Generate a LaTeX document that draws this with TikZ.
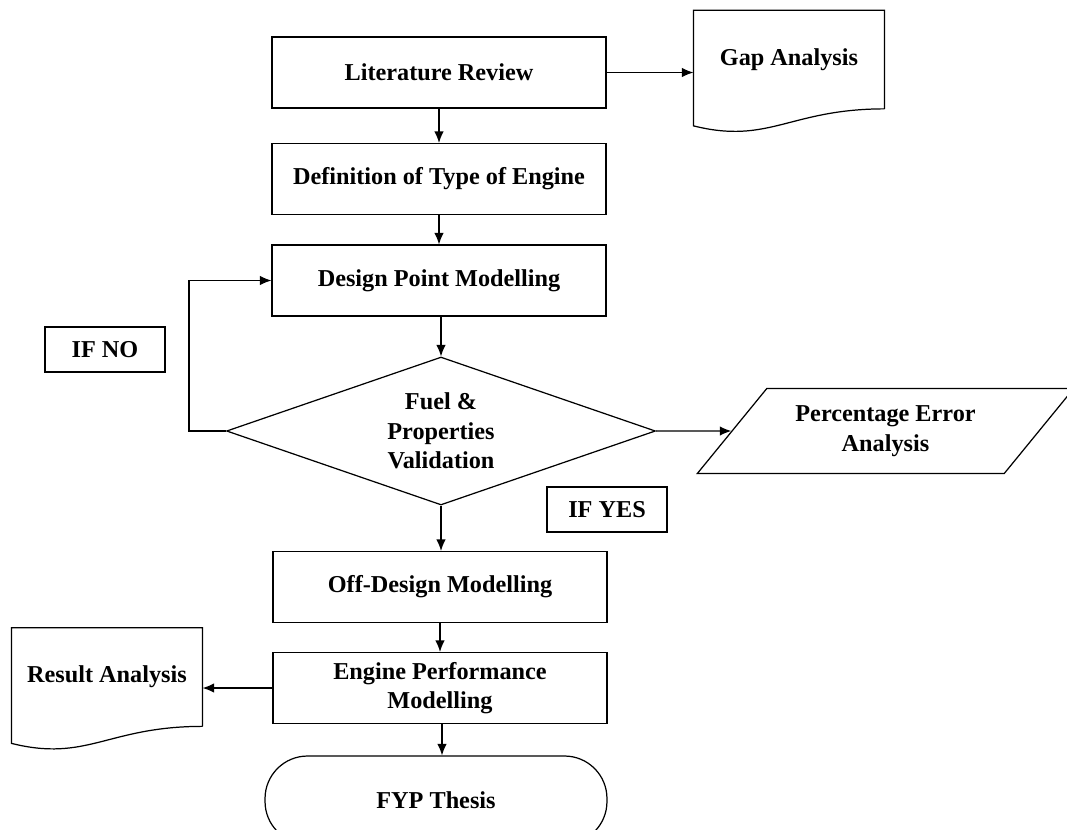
\documentclass[tikz,border=0pt]{standalone}
\usepackage{fontspec}
\setmainfont{Liberation Serif}
\usetikzlibrary{shapes.geometric, positioning, arrows.meta}
\newcommand{\boxfont}{\fontsize{13.8pt}{16.8pt}\selectfont\bfseries}

\tikzset{
  procbox/.style={draw, rectangle, minimum width=6.68cm, minimum height=1.42cm, align=center, font=\boxfont},
  docbox/.style={rectangle, minimum width=3.8cm, minimum height=1.95cm, align=center, font=\boxfont},
  tagbox/.style={draw, rectangle, minimum width=2.4cm, minimum height=0.9cm, font=\boxfont},
  decision/.style={draw, diamond, aspect=2.9, inner sep=0pt, minimum width=8.58cm, minimum height=2.96cm, align=center, font=\boxfont},
  databox/.style={draw, trapezium, trapezium left angle=48, trapezium right angle=132, trapezium stretches=true, minimum width=7.54cm, minimum height=1.7cm, align=center, font=\boxfont},
  termbox/.style={draw, rectangle, rounded corners=0.85cm, minimum width=6.84cm, minimum height=1.76cm, font=\boxfont}
}

\begin{document}
\begin{tikzpicture}[x=0.02cm, y=-0.02cm, line width=0.7pt, >={Latex[length=2.3mm,width=1.9mm]}]
\useasboundingbox (0,0) rectangle (1067,829);

\node[procbox] (lit) at (439,72.5) {Literature Review};
\node[docbox] (gap) at (789,59.5) {Gap Analysis};
\node[procbox] (def) at (439,179) {Definition of Type of Engine};
\node[procbox] (dpm) at (439,280.5) {Design Point Modelling};
\node[decision] (val) at (441,431) {Fuel \&\\Properties\\Validation};
\node[tagbox] (ifno) at (105,349.5) {IF NO};
\node[tagbox] (ifyes) at (607,509.5) {IF YES};
\node[databox] (err) at (885.5,431) {Percentage Error\\Analysis};
\node[procbox] (off) at (440,587) {Off-Design Modelling};
\node[procbox] (eng) at (440,688) {Engine Performance\\Modelling};
\node[docbox] (res) at (107,677) {Result Analysis};
\node[termbox] (fyp) at (436,800) {FYP Thesis};

% document outlines with wavy bottom
\draw (gap.south east) -- (gap.north east) -- (gap.north west) -- ([yshift=-0.34cm]gap.south west)
  .. controls +(76,19) and +(-95,0) .. (gap.south east);
\draw (res.south east) -- (res.north east) -- (res.north west) -- ([yshift=-0.34cm]res.south west)
  .. controls +(76,19) and +(-95,0) .. (res.south east);

% connectors
\draw[->] (lit.east) -- (lit.east -| gap.west);
\draw[->] (lit) -- (def);
\draw[->] (def) -- (dpm);
\draw[->] (dpm.south -| val.north) -- (val.north);
\draw[->] (val.west) -- ++(-37,0) |- (dpm.west); %loop back if no
\draw[->] (val.east) -- (err);
\draw[->] (val.south) -- (val.south |- off.north);
\draw[->] (off) -- (eng);
\draw[->] (eng.west) -- (eng.west -| res.east);
\draw[->] (eng.south -| 442,0) -- (fyp.north -| 442,0);
\end{tikzpicture}
\end{document}
